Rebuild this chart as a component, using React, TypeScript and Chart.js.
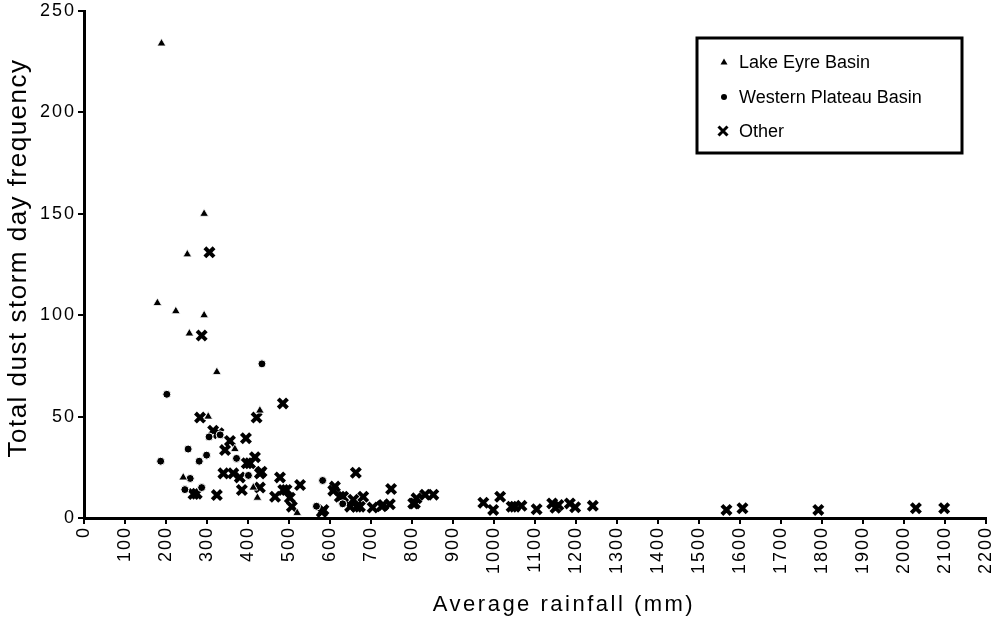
import React, { useEffect, useRef } from "react";
import { Chart, registerables } from "chart.js";

Chart.register(...registerables);

const seriesNames = ["Lake Eyre Basin", "Western Plateau Basin", "Other"];

const lakeEyreX = [189, 293, 252, 179, 224, 293, 257, 324, 303, 429, 368, 413, 423, 520, 242];
const lakeEyreY = [234, 150, 130, 106, 102, 100, 91, 72, 50, 53, 34, 15, 10, 2.5, 20];

const westernX = [434, 202, 187, 305, 332, 254, 299, 281, 372, 259, 246, 287, 401, 582, 567, 631];
const westernY = [76, 61, 28, 40, 41, 34, 31, 28, 29.4, 19.5, 14, 15, 21, 18.5, 5.8, 7];

const otherX = [
  306, 287, 485, 283, 421, 315, 328, 356, 395, 344, 417, 397, 340, 364, 380, 405, 429, 433, 478,
  275, 267, 324, 385, 429, 466, 494, 486, 527, 502, 507, 580, 608, 612, 584, 663, 624, 632, 657,
  681, 649, 665, 673, 704, 726, 749, 746, 730, 807, 803, 811, 832, 852, 974, 1015, 998, 1051,
  1043, 1067, 1104, 1142, 1157, 1150, 1185, 1198, 1241, 1567, 1606, 1791, 2029, 2098,
];
const otherY = [
  131, 90, 56.5, 49.5, 49.5, 43, 41.8, 38, 39.3, 33.5, 30, 27, 22, 22, 20, 27, 22, 22.8, 20,
  12, 11.8, 11.3, 13.8, 15, 10.5, 13.8, 13.8, 16.3, 10, 5.6, 3, 13.5, 15.5, 4, 22.3, 10.5, 10.5, 9,
  10.5, 5.6, 5.6, 5.6, 5.2, 5.8, 14.3, 6.8, 6.4, 7.2, 7.2, 9.7, 11.5, 11.5, 7.5, 10.5, 4, 5.6,
  5.6, 6, 4.3, 7.2, 6.4, 5, 7.2, 5.3, 6, 4, 4.8, 4, 4.8, 4.8,
];

const xTitle = "Average rainfall (mm)";
const yTitle = "Total dust storm day frequency";

const toPoints = (xs: number[], ys: number[]) => xs.map((x, i) => ({ x, y: ys[i] }));

const FONT = '"Liberation Sans", Arial, sans-serif';

const decorPlugin = {
  id: "decor",
  beforeDraw(chart: any) {
    chart.ctx.letterSpacing = "2px";
  },
  afterDraw(chart: any) {
    const ctx = chart.ctx as CanvasRenderingContext2D;
    ctx.save();
    ctx.fillStyle = "#000";
    // y title
    ctx.save();
    (ctx as any).letterSpacing = "1.5px";
    ctx.translate(19, 258);
    ctx.rotate(-Math.PI / 2);
    ctx.font = `26px ${FONT}`;
    ctx.textAlign = "center";
    ctx.textBaseline = "middle";
    ctx.fillText(yTitle, 0, 0);
    ctx.restore();
    // x title
    ctx.save();
    (ctx as any).letterSpacing = "2.5px";
    ctx.font = `22px ${FONT}`;
    ctx.textAlign = "center";
    ctx.textBaseline = "middle";
    ctx.fillText(xTitle, 564, 605);
    ctx.restore();

    // legend
    ctx.save();
    (ctx as any).letterSpacing = "0px";
    ctx.strokeStyle = "#000";
    ctx.lineWidth = 3;
    ctx.strokeRect(697, 38, 265, 115);
    const rows = [62, 97, 131];
    ctx.beginPath();
    ctx.moveTo(724, rows[0] - 3.5);
    ctx.lineTo(727.5, rows[0] + 2.5);
    ctx.lineTo(720.5, rows[0] + 2.5);
    ctx.closePath();
    ctx.fill();
    ctx.beginPath();
    ctx.arc(724, rows[1], 3, 0, Math.PI * 2);
    ctx.fill();
    ctx.lineWidth = 3;
    ctx.beginPath();
    ctx.moveTo(718.5, rows[2] - 4.5);
    ctx.lineTo(727.5, rows[2] + 4.5);
    ctx.moveTo(727.5, rows[2] - 4.5);
    ctx.lineTo(718.5, rows[2] + 4.5);
    ctx.stroke();
    ctx.font = `18px ${FONT}`;
    ctx.textAlign = "left";
    ctx.textBaseline = "middle";
    seriesNames.forEach((n, i) => ctx.fillText(n, 739, rows[i] + 1));
    ctx.restore();
    ctx.restore();
  },
};

export default function App() {
  const ref = useRef<HTMLCanvasElement | null>(null);
  useEffect(() => {
    if (!ref.current) return;
    const chart = new Chart(ref.current, {
      type: "scatter",
      data: {
        datasets: [
          {
            label: seriesNames[0],
            data: toPoints(lakeEyreX, lakeEyreY),
            pointStyle: "triangle",
            pointRadius: 5,
            backgroundColor: "#000",
            borderColor: "#fff",
            borderWidth: 0.8,
          },
          {
            label: seriesNames[1],
            data: toPoints(westernX, westernY),
            pointStyle: "circle",
            pointRadius: 4,
            backgroundColor: "#000",
            borderColor: "#fff",
            borderWidth: 1,
          },
          {
            label: seriesNames[2],
            data: toPoints(otherX, otherY),
            pointStyle: "crossRot",
            pointRadius: 6.5,
            backgroundColor: "#000",
            borderColor: "#000",
            borderWidth: 4,
          },
        ],
      },
      options: {
        responsive: false,
        animation: false,
        layout: { padding: { top: 11, right: 14, left: 0, bottom: 0 } },
        plugins: { legend: { display: false }, tooltip: { enabled: false } },
        scales: {
          x: {
            type: "linear",
            min: 0,
            max: 2200,
            afterFit: (s: any) => {
              s.height = 111;
              s.paddingLeft = 0;
              s.paddingRight = 0;
            },
            ticks: {
              stepSize: 100,
              autoSkip: false,
              minRotation: 90,
              maxRotation: 90,
              color: "#000",
              padding: 2,
              font: { family: FONT, size: 18 },
              callback: (v: any) => String(v),
            },
            grid: {
              drawOnChartArea: false,
              drawTicks: true,
              tickLength: 6,
              color: "#000",
              lineWidth: 2,
            },
            border: { color: "#000", width: 3 },
          },
          y: {
            min: 0,
            max: 250,
            afterFit: (s: any) => {
              s.width = 84;
              s.paddingTop = 0;
              s.paddingBottom = 0;
            },
            ticks: {
              stepSize: 50,
              color: "#000",
              padding: 2,
              font: { family: FONT, size: 18 },
            },
            grid: {
              drawOnChartArea: false,
              drawTicks: true,
              tickLength: 6,
              color: "#000",
              lineWidth: 2,
            },
            border: { color: "#000", width: 3 },
          },
        },
      },
      plugins: [decorPlugin],
    } as any);
    return () => chart.destroy();
  }, []);
  return (
    <div style={{ position: "fixed", left: 0, top: 0, width: 1000, height: 629, background: "#fff" }}>
      <canvas ref={ref} width={1000} height={629} style={{ display: "block" }} />
    </div>
  );
}
